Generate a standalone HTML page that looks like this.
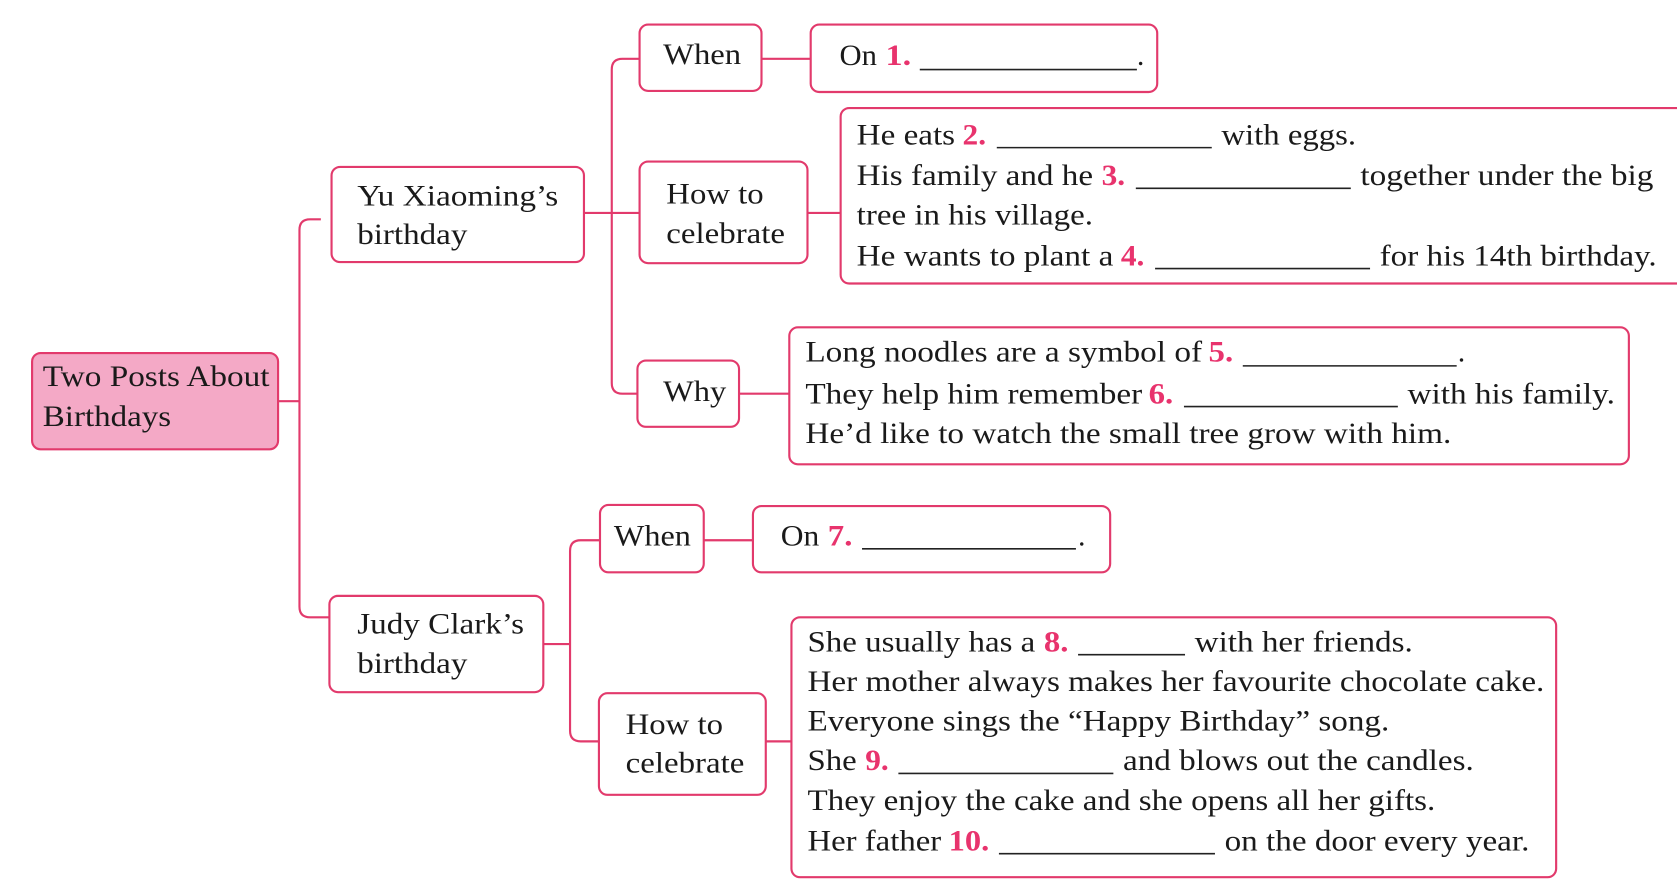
<!DOCTYPE html>
<html><head><meta charset="utf-8"><style>
html,body{margin:0;padding:0;background:#fff;}
svg{display:block;}
text{font-family:"Liberation Serif",serif;font-size:28px;fill:#1a1a1a;}
.r{fill:#e8336d;font-weight:bold;}
</style></head><body>
<svg width="1677" height="889" viewBox="0 0 1568 831" preserveAspectRatio="none" xmlns="http://www.w3.org/2000/svg">
<g fill="none" stroke="#e23a6c" stroke-width="2">
<!-- connectors -->
<path d="M260 375 H280 M300 205 H290 Q280 205 280 215 V567 Q280 577 290 577 H308"/>
<path d="M546 199 H598 M598 55 H582 Q572 55 572 65 V358 Q572 368 582 368 H596"/>
<path d="M712 55 H758 M755 199 H786 M691 368 H738"/>
<path d="M508 602 H533 M561 505 H543 Q533 505 533 515 V683 Q533 693 543 693 H560"/>
<path d="M658 505 H704 M716 693 H740"/>
<!-- boxes -->
<rect x="30" y="330" width="230" height="90" rx="8" fill="#f4a9c6"/>
<rect x="310" y="156" width="236" height="89" rx="8" fill="#fff"/>
<rect x="308" y="557" width="200" height="90" rx="8" fill="#fff"/>
<rect x="598" y="23" width="114" height="62" rx="8" fill="#fff"/>
<rect x="598" y="151" width="157" height="95" rx="8" fill="#fff"/>
<rect x="596" y="337" width="95" height="62" rx="8" fill="#fff"/>
<rect x="758" y="23" width="324" height="63" rx="8" fill="#fff"/>
<rect x="786" y="101" width="800" height="164" rx="8" fill="#fff"/>
<rect x="738" y="306" width="785" height="128" rx="8" fill="#fff"/>
<rect x="561" y="472" width="97" height="63" rx="8" fill="#fff"/>
<rect x="704" y="473" width="334" height="62" rx="8" fill="#fff"/>
<rect x="560" y="648" width="156" height="95" rx="8" fill="#fff"/>
<rect x="740" y="577" width="715" height="243" rx="8" fill="#fff"/>
</g>
<g stroke="#222" stroke-width="1.5">
<path d="M860 65 H1063 M932 138 H1133 M1062 176 H1263 M1080 251 H1281 M1162 342 H1362 M1107 380 H1307 M806 513 H1006 M1008 612 H1108 M840 723 H1041 M934 798 H1136"/>
</g>
<g lengthAdjust="spacingAndGlyphs">
<text x="40" y="361" textLength="212" lengthAdjust="spacingAndGlyphs">Two Posts About</text>
<text x="40" y="398" textLength="120" lengthAdjust="spacingAndGlyphs">Birthdays</text>
<text x="334" y="192" textLength="188" lengthAdjust="spacingAndGlyphs">Yu Xiaoming’s</text>
<text x="334" y="228" textLength="103" lengthAdjust="spacingAndGlyphs">birthday</text>
<text x="334" y="592" textLength="156" lengthAdjust="spacingAndGlyphs">Judy Clark’s</text>
<text x="334" y="629" textLength="103" lengthAdjust="spacingAndGlyphs">birthday</text>
<text x="620" y="60" textLength="73" lengthAdjust="spacingAndGlyphs">When</text>
<text x="623" y="190" textLength="91" lengthAdjust="spacingAndGlyphs">How to</text>
<text x="623" y="227" textLength="111" lengthAdjust="spacingAndGlyphs">celebrate</text>
<text x="620" y="375" textLength="59" lengthAdjust="spacingAndGlyphs">Why</text>
<text x="574" y="510" textLength="72" lengthAdjust="spacingAndGlyphs">When</text>
<text x="585" y="686" textLength="91" lengthAdjust="spacingAndGlyphs">How to</text>
<text x="585" y="722" textLength="111" lengthAdjust="spacingAndGlyphs">celebrate</text>

<text x="785" y="61" textLength="35" lengthAdjust="spacingAndGlyphs">On</text>
<text class="r" x="828" y="61" textLength="24" lengthAdjust="spacingAndGlyphs">1.</text>
<text x="1063" y="61">.</text>

<text x="801" y="135" textLength="92" lengthAdjust="spacingAndGlyphs">He eats</text>
<text class="r" x="900" y="135" textLength="22" lengthAdjust="spacingAndGlyphs">2.</text>
<text x="1142" y="135" textLength="126" lengthAdjust="spacingAndGlyphs">with eggs.</text>
<text x="801" y="173" textLength="221" lengthAdjust="spacingAndGlyphs">His family and he</text>
<text class="r" x="1030" y="173" textLength="22" lengthAdjust="spacingAndGlyphs">3.</text>
<text x="1272" y="173" textLength="274" lengthAdjust="spacingAndGlyphs">together under the big</text>
<text x="801" y="210" textLength="221" lengthAdjust="spacingAndGlyphs">tree in his village.</text>
<text x="801" y="248" textLength="240" lengthAdjust="spacingAndGlyphs">He wants to plant a</text>
<text class="r" x="1048" y="248" textLength="22" lengthAdjust="spacingAndGlyphs">4.</text>
<text x="1290" y="248" textLength="259" lengthAdjust="spacingAndGlyphs">for his 14th birthday.</text>

<text x="753" y="338" textLength="371" lengthAdjust="spacingAndGlyphs">Long noodles are a symbol of</text>
<text class="r" x="1130" y="338" textLength="23" lengthAdjust="spacingAndGlyphs">5.</text>
<text x="1363" y="338">.</text>
<text x="753" y="377" textLength="315" lengthAdjust="spacingAndGlyphs">They help him remember</text>
<text class="r" x="1074" y="377" textLength="23" lengthAdjust="spacingAndGlyphs">6.</text>
<text x="1316" y="377" textLength="194" lengthAdjust="spacingAndGlyphs">with his family.</text>
<text x="753" y="414" textLength="604" lengthAdjust="spacingAndGlyphs">He’d like to watch the small tree grow with him.</text>

<text x="730" y="510" textLength="36" lengthAdjust="spacingAndGlyphs">On</text>
<text class="r" x="774" y="510" textLength="23" lengthAdjust="spacingAndGlyphs">7.</text>
<text x="1008" y="510">.</text>

<text x="755" y="609" textLength="213" lengthAdjust="spacingAndGlyphs">She usually has a</text>
<text class="r" x="976" y="609" textLength="23" lengthAdjust="spacingAndGlyphs">8.</text>
<text x="1117" y="609" textLength="204" lengthAdjust="spacingAndGlyphs">with her friends.</text>
<text x="755" y="646" textLength="689" lengthAdjust="spacingAndGlyphs">Her mother always makes her favourite chocolate cake.</text>
<text x="755" y="683" textLength="544" lengthAdjust="spacingAndGlyphs">Everyone sings the “Happy Birthday” song.</text>
<text x="755" y="720" textLength="46" lengthAdjust="spacingAndGlyphs">She</text>
<text class="r" x="809" y="720" textLength="22" lengthAdjust="spacingAndGlyphs">9.</text>
<text x="1050" y="720" textLength="328" lengthAdjust="spacingAndGlyphs">and blows out the candles.</text>
<text x="755" y="757" textLength="587" lengthAdjust="spacingAndGlyphs">They enjoy the cake and she opens all her gifts.</text>
<text x="755" y="795" textLength="125" lengthAdjust="spacingAndGlyphs">Her father</text>
<text class="r" x="887" y="795" textLength="38" lengthAdjust="spacingAndGlyphs">10.</text>
<text x="1145" y="795" textLength="285" lengthAdjust="spacingAndGlyphs">on the door every year.</text>
</g>
</svg>
</body></html>
